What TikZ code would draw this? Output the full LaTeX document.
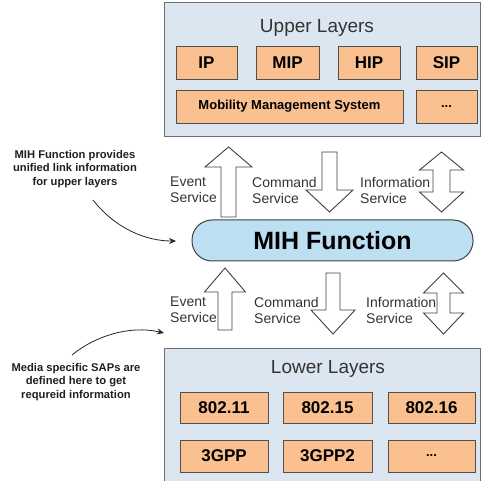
\documentclass[tikz,border=0pt]{standalone}
\usepackage{fontspec}
\setmainfont{Liberation Sans}
\usetikzlibrary{arrows.meta}

\definecolor{layerfill}{HTML}{DCE6F1}
\definecolor{layerline}{HTML}{6F6F6F}
\definecolor{protofill}{HTML}{FAC08F}
\definecolor{protoline}{HTML}{505050}
\definecolor{mihfill}{HTML}{BCDFF2}
\definecolor{inkgray}{HTML}{333333}

% block arrows: centre x, half shaft, half head, then the y values
\newcommand\blockup[6]{% cx, hs, hh, tip, base, bottom
  \draw[blockarrow] (#1,#4) -- (#1+#3,#5) -- (#1+#2,#5) -- (#1+#2,#6)
    -- (#1-#2,#6) -- (#1-#2,#5) -- (#1-#3,#5) -- cycle;}
\newcommand\blockdown[6]{% cx, hs, hh, top, base, tip
  \draw[blockarrow] (#1-#2,#4) -- (#1+#2,#4) -- (#1+#2,#5) -- (#1+#3,#5)
    -- (#1,#6) -- (#1-#3,#5) -- (#1-#2,#5) -- cycle;}
\newcommand\blockboth[7]{% cx, hs, hh, top tip, top base, bottom base, bottom tip
  \draw[blockarrow] (#1,#4) -- (#1+#3,#5) -- (#1+#2,#5) -- (#1+#2,#6)
    -- (#1+#3,#6) -- (#1,#7) -- (#1-#3,#6) -- (#1-#2,#6) -- (#1-#2,#5)
    -- (#1-#3,#5) -- cycle;}

\begin{document}
\begin{tikzpicture}[x=1pt,y=-1pt,
  layer/.style={draw=layerline, fill=layerfill, line width=1pt},
  proto/.style={draw=protoline, fill=protofill, line width=0.9pt,
    inner sep=0pt, font=\bfseries\fontsize{17}{19}\selectfont},
  protosmall/.style={proto, font=\bfseries\fontsize{13}{15}\selectfont},
  title/.style={text=inkgray, font=\fontsize{19}{21}\selectfont},
  service/.style={text=inkgray, anchor=west, align=left, inner sep=0pt,
    font=\fontsize{14}{16}\selectfont},
  note/.style={align=center, inner sep=0pt, text=black!88,
    font=\bfseries\fontsize{11.2}{13.5}\selectfont},
  blockarrow/.style={draw=black!75, fill=white, line width=0.9pt, line join=miter},
  pointer/.style={draw=black!85, line width=0.8pt, -{Stealth[length=7pt,width=6pt]}}]

\useasboundingbox (0,0) rectangle (482,481);

% layer frames
\draw[layer] (164,3) rectangle (480,137);
\draw[layer] (164,348) rectangle (480,486);

\node[title] (upper) at (317,28) {Upper Layers};
\node[title] (lower) at (328,369) {Lower Layers};

% upper layer protocols
\node[proto, minimum width=61pt, minimum height=33pt] (ip)  at (206.5,62.5) {IP};
\node[proto, minimum width=63pt, minimum height=33pt] (mip) at (287.5,62.5) {MIP};
\node[proto, minimum width=62pt, minimum height=33pt] (hip) at (369,62.5) {HIP};
\node[proto, minimum width=61pt, minimum height=33pt] (sip) at (446.5,62.5) {SIP};
\node[protosmall, minimum width=227pt, minimum height=33pt] (mms) at (289.5,106.5) {Mobility Management System};
\node[protosmall, minimum width=61pt, minimum height=33pt] (umore) at (446.5,106.5) {...};

% lower layer technologies
\node[proto, minimum width=88pt, minimum height=31pt] (w11) at (224,407.5) {802.11};
\node[proto, minimum width=89pt, minimum height=31pt] (w15) at (327.5,407.5) {802.15};
\node[proto, minimum width=87pt, minimum height=31pt] (w16) at (431.5,407.5) {802.16};
\node[proto, minimum width=88pt, minimum height=32pt] (g3)  at (224,456) {3GPP};
\node[proto, minimum width=89pt, minimum height=32pt] (g32) at (327.5,456) {3GPP2};
\node[protosmall, minimum width=87pt, minimum height=32pt] (lmore) at (431.5,456) {...};

% MIH function
\node[draw=black!75, fill=mihfill, line width=1pt, rounded corners=20pt,
  minimum width=281pt, minimum height=41pt, inner sep=0pt,
  font=\bfseries\fontsize{25}{27}\selectfont] (mih) at (332.5,240.5) {MIH Function};

% service arrows between upper layers and MIH
\blockup{228.5}{7.5}{23.5}{147}{167}{217}
\blockdown{329.5}{7.5}{23.5}{152}{190}{212}
\blockboth{441.5}{8.5}{22}{152}{170}{192}{212}

% service arrows between MIH and lower layers
\blockup{225}{7}{20.5}{268}{292}{330}
\blockdown{333}{7}{22}{273}{310}{334}
\blockboth{443.5}{6.5}{20}{273}{293}{313}{334}

% service labels
\node[service] (evu) at (170,190) {Event\\Service};
\node[service] (cmu) at (252,190) {Command\\Service};
\node[service] (inu) at (360,190) {Information\\Service};
\node[service] (evl) at (170,310) {Event\\Service};
\node[service] (cml) at (254,310) {Command\\Service};
\node[service] (inl) at (366,310) {Information\\Service};

% side notes
\node[note] (noteup) at (75,169) {MIH Function provides\\unified link information\\for upper layers};
\node[note] (notelow) at (76,382) {Media specific SAPs are\\defined here to get\\requreid information};

\coordinate (upstart) at (93,200);
\coordinate (uptip) at (176,241);
\coordinate (lowstart) at (72,355);
\coordinate (lowtip) at (164,333);
\draw[pointer] (upstart) .. controls (115,228) and (145,241) .. (uptip);
\draw[pointer] (lowstart) .. controls (95,336) and (130,325) .. (lowtip);

\end{tikzpicture}
\end{document}
